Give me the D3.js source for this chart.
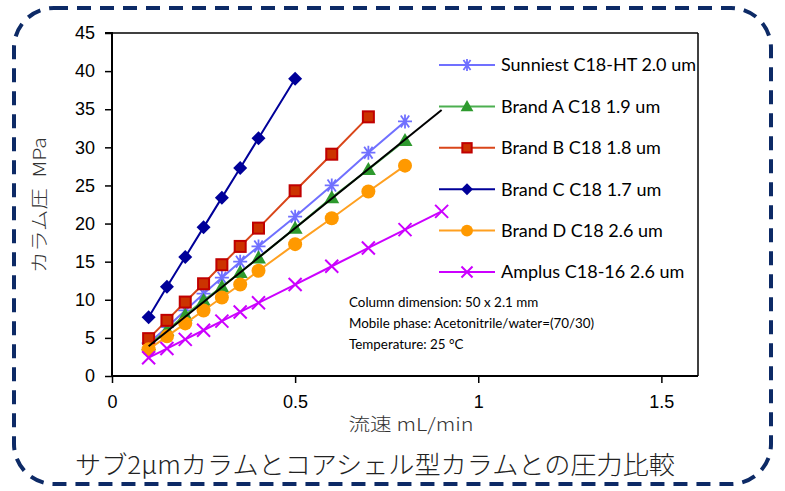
<!DOCTYPE html>
<html><head><meta charset="utf-8">
<script src="https://cdn.jsdelivr.net/npm/d3@7"></script>
<style>
html,body{margin:0;padding:0;background:#fff;}
svg{display:block;}
</style></head>
<body>
<svg id="chart" width="785" height="491"></svg>
<script>
// ---- data ----
const xSunniest = [0.1,0.15,0.2,0.25,0.3,0.35,0.4,0.5,0.6,0.7,0.8];
const ySunniest = [4.3,6.4,8.6,10.8,12.9,15.0,17.0,20.9,25.0,29.3,33.4];
const xBrandA = [0.1,0.15,0.2,0.25,0.3,0.35,0.4,0.5,0.6,0.7,0.8];
const yBrandA = [4.1,6.0,8.0,9.9,11.7,13.6,15.5,19.4,23.4,27.1,30.9];
const xBrandB = [0.1,0.15,0.2,0.25,0.3,0.35,0.4,0.5,0.6,0.7];
const yBrandB = [4.9,7.3,9.7,12.1,14.6,17.0,19.4,24.3,29.1,34.0];
const xBrandC = [0.1,0.15,0.2,0.25,0.3,0.35,0.4,0.5];
const yBrandC = [7.7,11.7,15.6,19.5,23.4,27.3,31.2,39.0];
const xBrandD = [0.1,0.15,0.2,0.25,0.3,0.35,0.4,0.5,0.6,0.7,0.8];
const yBrandD = [3.5,5.2,6.9,8.6,10.3,12.0,13.8,17.3,20.7,24.2,27.6];
const xAmplus = [0.1,0.15,0.2,0.25,0.3,0.35,0.4,0.5,0.6,0.7,0.8,0.9];
const yAmplus = [2.4,3.6,4.8,6.0,7.2,8.4,9.6,12.0,14.4,16.8,19.2,21.6];
const xTrend = [0.1,0.9];
const yTrend = [3.9,34.9];
const seriesNames = ["Sunniest C18-HT 2.0 um","Brand A C18 1.9 um","Brand B C18 1.8 um","Brand C C18 1.7 um","Brand D C18 2.6 um","Amplus C18-16 2.6 um"];
const xTicks = [0,0.5,1,1.5];
const yTicks = [0,5,10,15,20,25,30,35,40,45];
const xTitle = "流速 mL/min";
const yTitle = "カラム圧\u2002MPa";
const chartTitle = "サブ2μmカラムとコアシェル型カラムとの圧力比較";
const notes = ["Column dimension: 50 x 2.1 mm","Mobile phase: Acetonitrile/water=(70/30)","Temperature: 25 \u00B0C"];

const series = [
  {name:seriesNames[0], xs:xSunniest, ys:ySunniest, line:"#7070ff", fill:"#7070ff", stroke:"#7070ff", shape:"star"},
  {name:seriesNames[1], xs:xBrandA, ys:yBrandA, line:"#4caf50", fill:"#2e9a2e", stroke:"#2e9a2e", shape:"triangle"},
  {name:seriesNames[2], xs:xBrandB, ys:yBrandB, line:"#d9461a", fill:"#cc3300", stroke:"#c00000", shape:"square"},
  {name:seriesNames[3], xs:xBrandC, ys:yBrandC, line:"#000099", fill:"#000099", stroke:"#000099", shape:"diamond"},
  {name:seriesNames[4], xs:xBrandD, ys:yBrandD, line:"#ffa020", fill:"#ff9900", stroke:"#ff9900", shape:"circle"},
  {name:seriesNames[5], xs:xAmplus, ys:yAmplus, line:"#cc00ff", fill:"#cc00ff", stroke:"#cc00ff", shape:"cross"}
];

const svg = d3.select("#chart");

// dashed rounded border
svg.append("rect").attr("x",14).attr("y",8).attr("width",757).attr("height",476)
  .attr("rx",40).attr("ry",40).attr("fill","none")
  .attr("stroke","#0d2a66").attr("stroke-width",4).attr("stroke-dasharray","14,9");

const L=112, R=698, T=33, B=376;
const x = d3.scaleLinear().domain([0,1.6]).range([L,R]);
const y = d3.scaleLinear().domain([0,45]).range([B,T]);

const g = svg.append("g");
// frame top/right
g.append("line").attr("x1",L).attr("x2",R).attr("y1",T).attr("y2",T).attr("stroke","#000").attr("stroke-width",1.5);
g.append("line").attr("x1",R).attr("x2",R).attr("y1",T).attr("y2",B).attr("stroke","#000").attr("stroke-width",1.5);

const yAxis = g.append("g").attr("transform",`translate(${L},0)`)
  .call(d3.axisLeft(y).tickValues(yTicks).tickSize(7).tickPadding(10).tickFormat(d3.format("d")));
const xAxis = g.append("g").attr("transform",`translate(0,${B})`)
  .call(d3.axisBottom(x).tickValues(xTicks).tickSize(7).tickPadding(12).tickFormat(d=>String(d)));
[yAxis,xAxis].forEach(a=>{
  a.select(".domain").attr("stroke","#000").attr("stroke-width",2);
  a.selectAll(".tick line").attr("stroke","#000").attr("stroke-width",1.5);
  a.selectAll("text").attr("font-family","Liberation Sans, Arial, sans-serif").attr("font-size",18).attr("fill","#000");
});
yAxis.select(".domain").attr("d",`M-7,${T}H0V${B}`);
xAxis.select(".domain").attr("d",`M${L},0H${R}`);

// axis titles
svg.append("text").attr("x",411).attr("y",431).attr("text-anchor","middle")
  .attr("font-family","Noto Sans CJK JP, sans-serif").attr("font-size",18).attr("font-weight",300).attr("fill","#333")
  .attr("textLength",125).attr("lengthAdjust","spacingAndGlyphs").text(xTitle);
svg.append("text").attr("transform","translate(46,205) rotate(-90)").attr("text-anchor","middle")
  .attr("font-family","Noto Sans CJK JP, sans-serif").attr("font-size",18).attr("font-weight",300).attr("fill","#333")
  .attr("textLength",136).attr("lengthAdjust","spacingAndGlyphs").text(yTitle);

// chart title
svg.append("text").attr("x",375).attr("y",474).attr("text-anchor","middle")
  .attr("font-family","Noto Sans CJK JP, sans-serif").attr("font-size",25).attr("font-weight",300).attr("fill","#222")
  .attr("textLength",600).attr("lengthAdjust","spacingAndGlyphs").text(chartTitle);

function drawMarker(sel, s, cx, cy, scale){
  const k = scale||1;
  if(s.shape==="star"){
    const r=7*k;
    const p = d3.path();
    p.moveTo(cx-r,cy); p.lineTo(cx+r,cy);
    p.moveTo(cx-r*0.6,cy-r*0.85); p.lineTo(cx+r*0.6,cy+r*0.85);
    p.moveTo(cx+r*0.6,cy-r*0.85); p.lineTo(cx-r*0.6,cy+r*0.85);
    p.moveTo(cx,cy-r); p.lineTo(cx,cy+r);
    sel.append("path").attr("d",p.toString()).attr("stroke",s.stroke).attr("stroke-width",1.8).attr("fill","none");
  } else if(s.shape==="cross"){
    const r=6.5*k;
    const p = d3.path();
    p.moveTo(cx-r,cy-r); p.lineTo(cx+r,cy+r);
    p.moveTo(cx+r,cy-r); p.lineTo(cx-r,cy+r);
    sel.append("path").attr("d",p.toString()).attr("stroke",s.stroke).attr("stroke-width",2).attr("fill","none");
  } else if(s.shape==="triangle"){
    const r=7.5*k;
    sel.append("path").attr("d",`M${cx},${cy-r}L${cx+r},${cy+r*0.75}L${cx-r},${cy+r*0.75}Z`).attr("fill",s.fill);
  } else if(s.shape==="square"){
    const r=5.5*k;
    sel.append("rect").attr("x",cx-r).attr("y",cy-r).attr("width",2*r).attr("height",2*r)
      .attr("fill",s.fill).attr("stroke",s.stroke).attr("stroke-width",2);
  } else if(s.shape==="diamond"){
    const r=7*k;
    sel.append("path").attr("d",`M${cx},${cy-r}L${cx+r},${cy}L${cx},${cy+r}L${cx-r},${cy}Z`).attr("fill",s.fill);
  } else if(s.shape==="circle"){
    sel.append("circle").attr("cx",cx).attr("cy",cy).attr("r",7*k).attr("fill",s.fill);
  }
}

const line = d3.line().x(d=>x(d[0])).y(d=>y(d[1]));
const plot = svg.append("g");
series.forEach(s=>{
  const pts = s.xs.map((v,i)=>[v,s.ys[i]]);
  plot.append("path").attr("d",line(pts)).attr("fill","none").attr("stroke",s.line).attr("stroke-width",2);
  pts.forEach(p=>drawMarker(plot,s,x(p[0]),y(p[1])));
});
// trend line
plot.append("path").attr("d",line(xTrend.map((v,i)=>[v,yTrend[i]]))).attr("fill","none").attr("stroke","#000").attr("stroke-width",2);

// legend
const lg = svg.append("g");
series.forEach((s,i)=>{
  const yy = 65 + i*41.4;
  lg.append("line").attr("x1",439).attr("x2",495).attr("y1",yy).attr("y2",yy).attr("stroke",s.line).attr("stroke-width",2);
  drawMarker(lg,s,467,yy,0.85);
  lg.append("text").attr("x",501).attr("y",yy).attr("dy","0.35em")
    .attr("font-family","Lato, Carlito, sans-serif").attr("font-size",18).attr("fill","#000").text(s.name);
});

// notes
notes.forEach((t,i)=>{
  svg.append("text").attr("x",349).attr("y",302+i*21).attr("dy","0.35em")
    .attr("font-family","Lato, Carlito, sans-serif").attr("font-size",13.4).attr("fill","#000").text(t);
});
</script>
</body></html>
